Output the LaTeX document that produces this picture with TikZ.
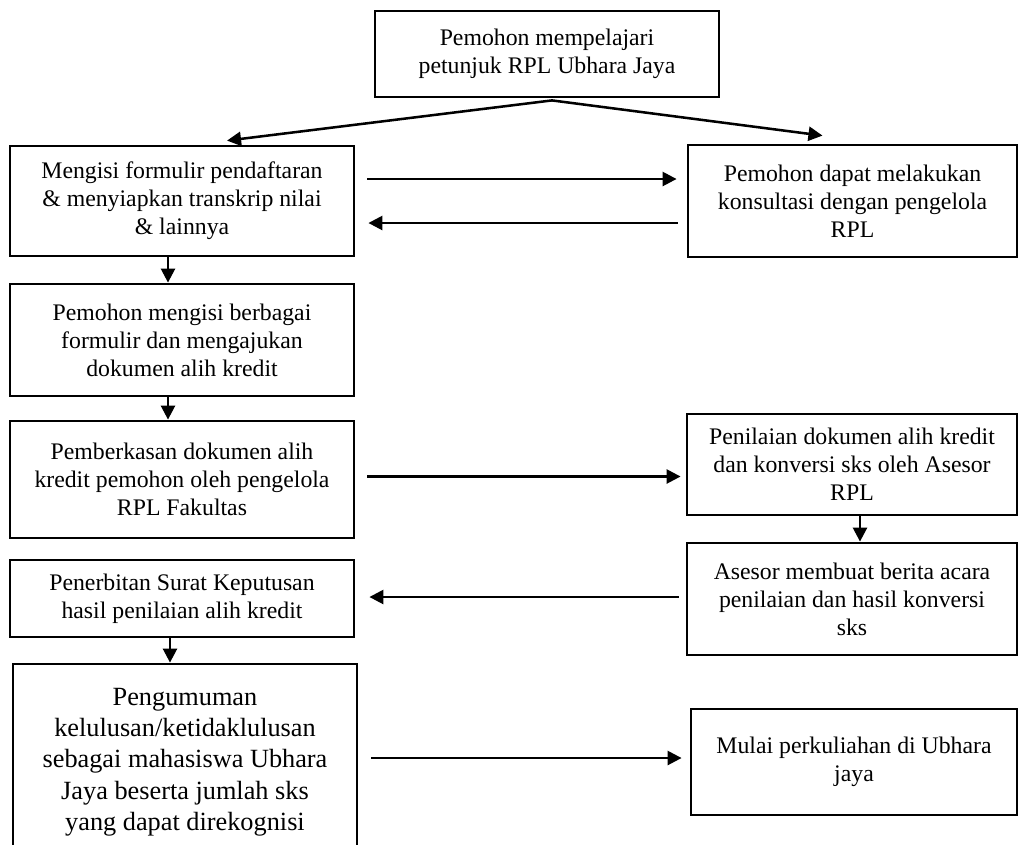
\documentclass[tikz,border=0pt]{standalone}
\usepackage{fontspec}
\setmainfont{Liberation Serif}
\usetikzlibrary{arrows.meta,calc}
\newcommand{\px}{0.025cm}
\begin{document}
\begin{tikzpicture}[x=\px, y=-\px,
	box/.style={draw, line width=2pt, align=center, inner sep=0pt, font=\fontsize{16.9}{19.9}\selectfont},
	bigbox/.style={box, font=\fontsize{18.7}{22.2}\selectfont},
	arr/.style={line width=1.8pt, -{Triangle[length=10pt,width=10pt]}}]
	\clip (0, 0) rectangle (1025, 844);
	\node[box, minimum width=344*\px, minimum height=86*\px] (start) at (547, 54) {Pemohon mempelajari\\petunjuk RPL Ubhara Jaya};
	\node[box, minimum width=344*\px, minimum height=110*\px] (isi) at (182, 201) {Mengisi formulir pendaftaran\\\& menyiapkan transkrip nilai\\\& lainnya};
	\node[box, minimum width=329*\px, minimum height=112*\px] (konsul) at (852.5, 201) {Pemohon dapat melakukan\\konsultasi dengan pengelola\\RPL};
	\node[box, minimum width=344*\px, minimum height=112*\px] (ajukan) at (182, 340) {Pemohon mengisi berbagai\\formulir dan mengajukan\\dokumen alih kredit};
	\node[box, minimum width=344*\px, minimum height=117*\px] (berkas) at (182, 479.5) {Pemberkasan dokumen alih\\kredit pemohon oleh pengelola\\RPL Fakultas};
	\node[box, minimum width=330*\px, minimum height=101*\px] (nilai) at (852, 464.5) {Penilaian dokumen alih kredit\\dan konversi sks oleh Asesor\\RPL};
	\node[box, minimum width=330*\px, minimum height=112*\px] (berita) at (852, 599) {Asesor membuat berita acara\\penilaian dan hasil konversi\\sks};
	\node[box, minimum width=344*\px, minimum height=77*\px] (sk) at (182, 598.5) {Penerbitan Surat Keputusan\\hasil penilaian alih kredit};
	\node[bigbox, minimum width=344*\px, minimum height=196*\px] (umum) at (185, 762) {Pengumuman\\kelulusan/ketidaklulusan\\sebagai mahasiswa Ubhara\\Jaya beserta jumlah sks\\yang dapat direkognisi};
	\node[box, minimum width=326*\px, minimum height=106*\px] (kuliah) at (854, 762) {Mulai perkuliahan di Ubhara\\jaya};
	\draw[arr] ($(start.south)+(5, 2)$) -- ($(isi.north)+(45, -4)$);
	\draw[arr] ($(start.south)+(5, 2)$) -- ($(konsul.north)+(-30, -8)$);
	\draw[arr] ($(isi.east)+(12, -22)$) -- ($(konsul.west)+(-10, -22)$);
	\draw[arr] ($(konsul.west)+(-9, 22)$) -- ($(isi.east)+(13, 22)$);
	\draw[arr] ($(isi.south)+(-14, 0)$) -- ($(ajukan.north)+(-14, 0)$);
	\draw[arr] ($(ajukan.south)+(-14, 0)$) -- ($(berkas.north)+(-14, 0)$);
	\draw[arr] ($(berkas.east)+(12, -3)$) -- ($(nilai.west |- berkas.east)+(-5, -3)$);
	\draw[arr] ($(nilai.south)+(8, 0)$) -- ($(berita.north)+(8, 0)$);
	\draw[arr] ($(berita.west)+(-7, -2)$) -- ($(sk.east)+(14, -1.5)$);
	\draw[arr] ($(sk.south)+(-12, 0)$) -- ($(umum.north)+(-15, 0)$);
	\draw[arr] ($(umum.east)+(13, -4)$) -- ($(kuliah.west)+(-8, -4)$);
\end{tikzpicture}
\end{document}
